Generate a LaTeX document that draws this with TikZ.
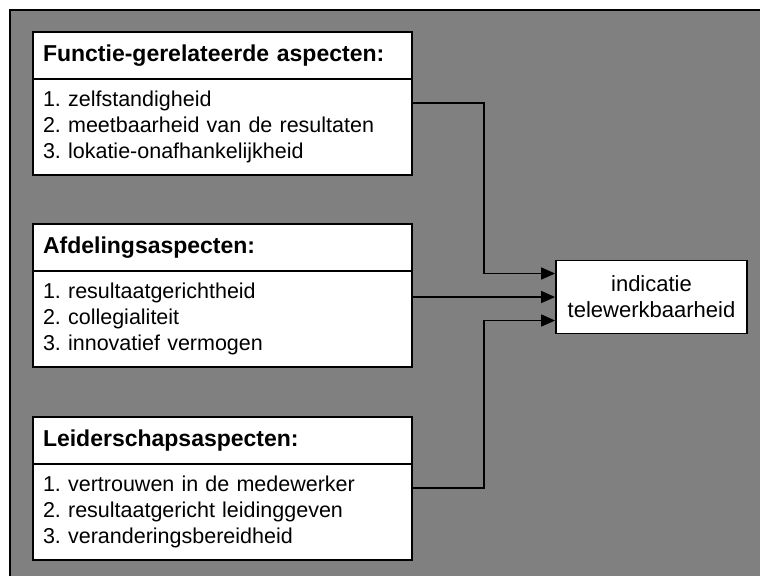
\documentclass[tikz,border=0pt]{standalone}
\usepackage{fontspec}
\setmainfont{Liberation Sans}
\usetikzlibrary{positioning,arrows.meta}
\definecolor{bggray}{RGB}{128,128,128}
\frenchspacing

\begin{document}
\begin{tikzpicture}[x=1pt,y=-1pt,
    head/.style={draw=black,fill=white,line width=1.8pt,outer sep=0pt,anchor=north west,
        minimum width=379pt,minimum height=47pt,text width=359pt,inner xsep=10pt,
        align=left,font=\fontsize{23}{26}\selectfont\bfseries},
    body/.style={draw=black,fill=white,line width=1.8pt,outer sep=0pt,
        minimum width=379pt,minimum height=96pt,text width=359pt,inner xsep=10pt,
        align=left,font=\fontsize{21.5}{26}\selectfont},
    conn/.style={line width=1.6pt,-{Triangle[length=14pt,width=12pt]}}]
            \useasboundingbox (0,0) rectangle (760,576);
            \fill [bggray] (10,10) rectangle (760,576);
            \draw [line width=1.8pt] (10,576) -- (10,10) -- (760,10);
            % left boxes
            \node [head] (funchead) at (33,32) {Functie-gerelateerde aspecten:};
            \node [body,below=0pt of funchead] (funcbody) {1. zelfstandigheid\\2. meetbaarheid van de resultaten\\3. lokatie-onafhankelijkheid};
            \node [head] (afdhead) at (33,224) {Afdelingsaspecten:};
            \node [body,below=0pt of afdhead] (afdbody) {1. resultaatgerichtheid\\2. collegialiteit\\3. innovatief vermogen};
            \node [head] (leidhead) at (33,417) {Leiderschapsaspecten:};
            \node [body,below=0pt of leidhead] (leidbody) {1. vertrouwen in de medewerker\\2. resultaatgericht leidinggeven\\3. veranderingsbereidheid};
            % right box
            \node [draw=black,fill=white,line width=1.8pt,minimum width=191pt,minimum height=73pt,
                align=center,font=\fontsize{22}{26}\selectfont] (ind) at (651.5,297) {indicatie\\telewerkbaarheid};
            \coordinate (join) at (484,297);
            \coordinate (in1) at ([yshift=23.5pt]ind.west);
            \coordinate (in3) at ([yshift=-23.5pt]ind.west);
            \draw [conn] ([yshift=-24pt]funcbody.north east) -| (join |- in1) -- (in1);
            \draw [conn] (afdbody.north east |- ind.west) -- (ind.west);
            \draw [conn] ([yshift=-24pt]leidbody.north east) -| (join |- in3) -- (in3);
        \end{tikzpicture}
\end{document}
